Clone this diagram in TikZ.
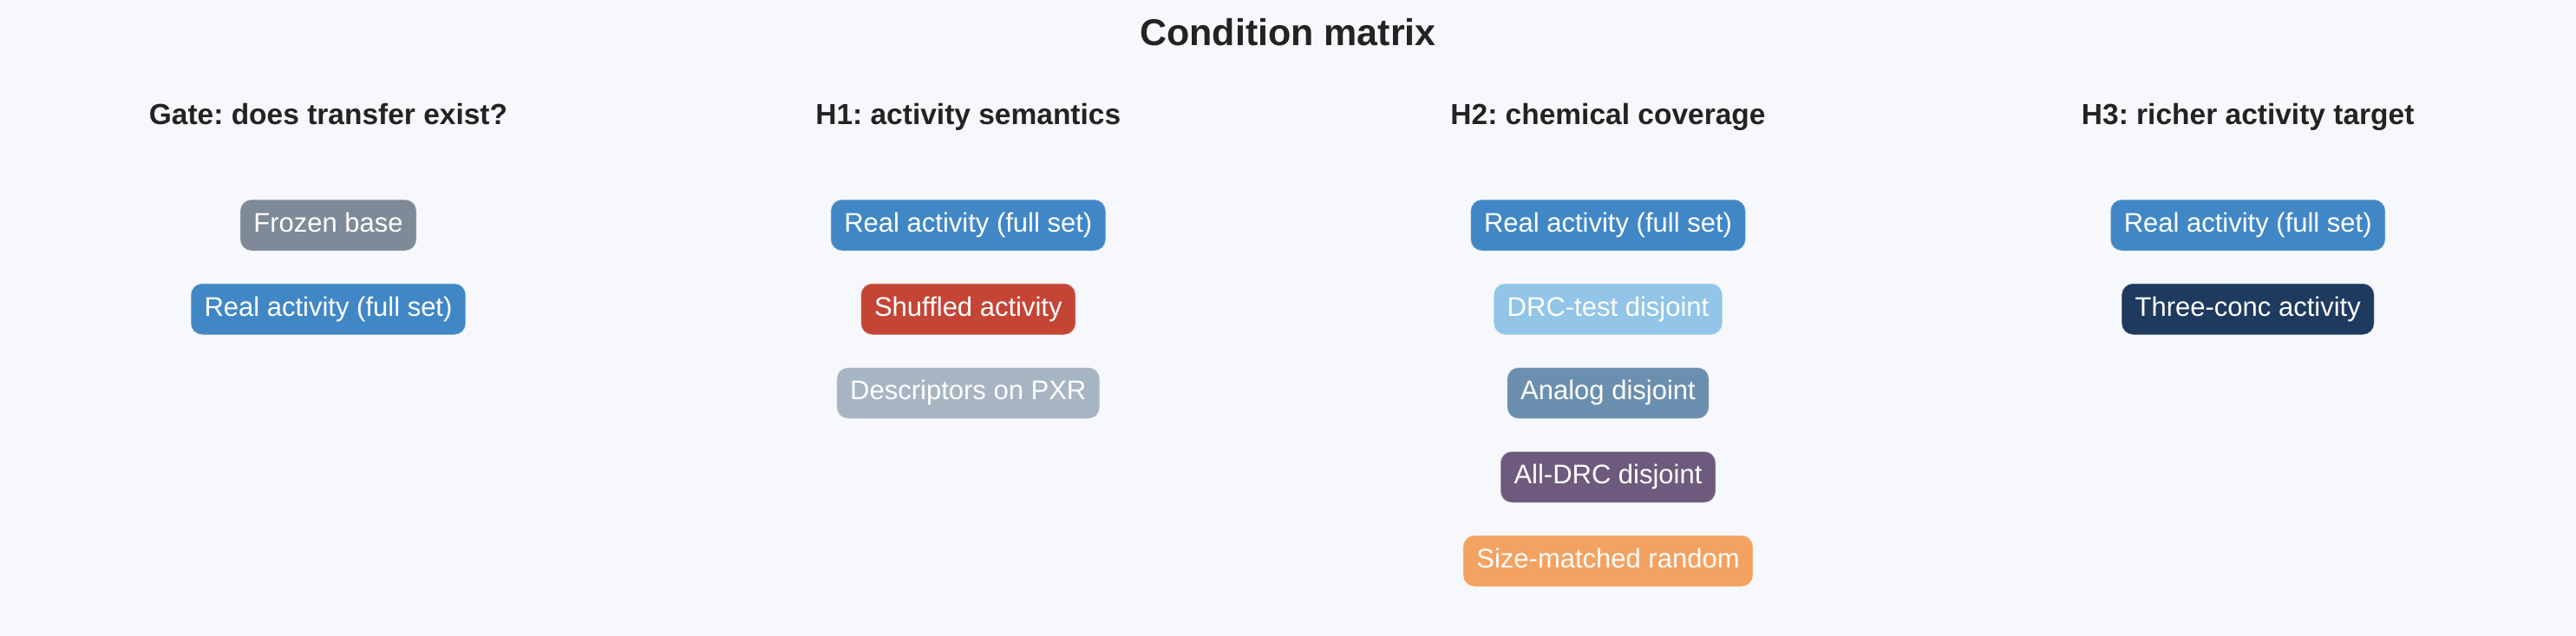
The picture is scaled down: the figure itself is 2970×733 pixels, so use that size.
\documentclass[tikz,border=0pt]{standalone}
\usepackage{fontspec}
\setmainfont{Liberation Sans}
\frenchspacing
\definecolor{bgc}{HTML}{F7F8FB}
\definecolor{txtc}{HTML}{232323}
\definecolor{cReal}{HTML}{4187C6}
\definecolor{cFrozen}{HTML}{7F8A98}
\definecolor{cShuf}{HTML}{C44536}
\definecolor{cDesc}{HTML}{A7B5C3}
\definecolor{cDRC}{HTML}{92C5E8}
\definecolor{cAnalog}{HTML}{6B8FAE}
\definecolor{cAll}{HTML}{6E5A7C}
\definecolor{cSize}{HTML}{F4A261}
\definecolor{cThree}{HTML}{1F3A5F}
\tikzset{
  titletext/.style={anchor=base, text=txtc, font=\fontsize{43}{50}\selectfont\bfseries, inner sep=0pt},
  headtext/.style={anchor=base, text=txtc, font=\fontsize{33.5}{40}\selectfont\bfseries, inner sep=0pt},
  condbox/.style={rectangle, rounded corners=13pt, fill=#1, draw=white, draw opacity=0.45, line width=1pt,
    text=white, font=\fontsize{31}{36}\selectfont, inner xsep=15.5pt, inner ysep=0pt,
    minimum height=59pt, text height=22pt, text depth=6.5pt}
}
\begin{document}
\begin{tikzpicture}[x=1pt,y=-1pt]
\fill[bgc] (0,0) rectangle (2970,733);
\useasboundingbox (0,0) rectangle (2970,733);
\node[titletext] (title) at (1485,53) {Condition matrix};
% column headers
\node[headtext] (hg) at (378.5,143) {Gate: does transfer exist?};
\node[headtext] (h1) at (1116.3,143) {H1: activity semantics};
\node[headtext] (h2) at (1854,143) {H2: chemical coverage};
\node[headtext] (h3) at (2591.7,143) {H3: richer activity target};
% Gate column
\node[condbox=cFrozen] (g1) at (378.5,259.5) {Frozen base};
\node[condbox=cReal] (g2) at (378.5,356.25) {Real activity (full set)};
% H1 column
\node[condbox=cReal] (a1) at (1116.3,259.5) {Real activity (full set)};
\node[condbox=cShuf] (a2) at (1116.3,356.25) {Shuffled activity};
\node[condbox=cDesc] (a3) at (1116.3,453) {Descriptors on PXR};
% H2 column
\node[condbox=cReal] (b1) at (1854,259.5) {Real activity (full set)};
\node[condbox=cDRC] (b2) at (1854,356.25) {DRC-test disjoint};
\node[condbox=cAnalog] (b3) at (1854,453) {Analog disjoint};
\node[condbox=cAll] (b4) at (1854,549.75) {All-DRC disjoint};
\node[condbox=cSize] (b5) at (1854,646.5) {Size-matched random};
% H3 column
\node[condbox=cReal] (c1) at (2591.7,259.5) {Real activity (full set)};
\node[condbox=cThree] (c2) at (2591.7,356.25) {Three-conc activity};
\end{tikzpicture}
\end{document}
